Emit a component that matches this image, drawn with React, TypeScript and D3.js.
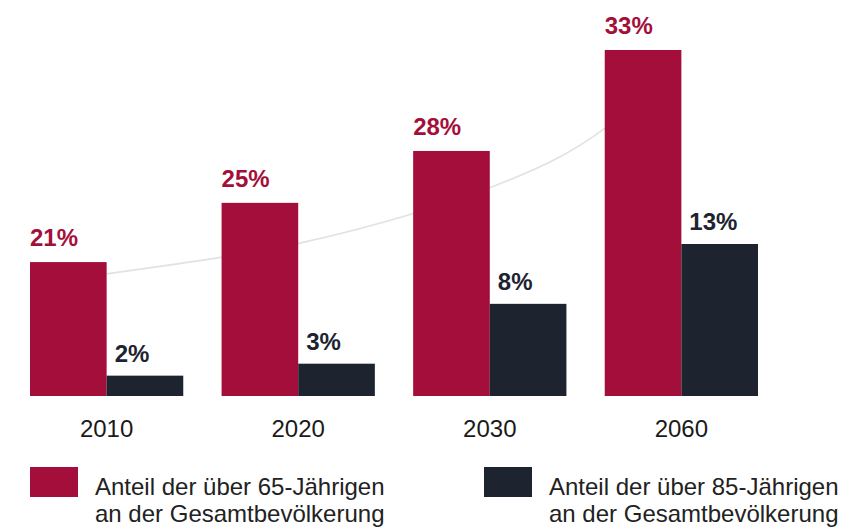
import React from "react";
import * as d3 from "d3";

const years = ["2010", "2020", "2030", "2060"];
const over65 = [21, 25, 28, 33];
const over85 = [2, 3, 8, 13];
const legendLabels = [
  ["Anteil der über 65-Jährigen", "an der Gesamtbevölkerung"],
  ["Anteil der über 85-Jährigen", "an der Gesamtbevölkerung"],
];
// decorative trend curve: [group position, value in %]
const trendPos = [0.4, 1.02, 1.42, 2.02, 2.42, 2.77, 3.0, 3.4];
const trendVal = [20.1, 21.4, 22.4, 24.4, 26.0, 27.7, 29.2, 32.4];

const RED = "#A30F3A";
const DARK = "#1D2430";
const W = 861;
const H = 529;
const BASE = 396;
const FONT = "'Liberation Sans', Arial, sans-serif";

export default function App() {
  const x = d3.scaleBand<string>().domain(years).range([30, 758]).paddingInner(0.2).paddingOuter(0);
  const bw = x.bandwidth() / 2;
  const yRed = d3.scalePow().exponent(2.1).domain([0, 33]).range([BASE, 50]);
  const yDark = d3.scaleLinear().domain([0.3, 13]).range([BASE, 244]);

  const trendPts: [number, number][] = trendPos.map((p, i) => [
    (x(years[0]) as number) + p * x.step(),
    yRed(trendVal[i]),
  ]);
  const trendPath = d3.line().curve(d3.curveCatmullRom)(trendPts) || "";

  return (
    <svg
      width={W}
      height={H}
      style={{ position: "absolute", left: 0, top: 0, display: "block", background: "#fff" }}
      fontFamily={FONT}
    >
      <path d={trendPath} fill="none" stroke="#dfe3e3" strokeWidth={1.6} />
      {years.map((yr, i) => {
        const x0 = x(yr) as number;
        return (
          <g key={yr}>
            <rect x={x0} y={yRed(over65[i])} width={bw} height={BASE - yRed(over65[i])} fill={RED} />
            <rect x={x0 + bw} y={yDark(over85[i])} width={bw} height={BASE - yDark(over85[i])} fill={DARK} />
            <text x={x0} y={yRed(over65[i]) - 16} fill={RED} fontSize={24} fontWeight={700}>
              {over65[i]}%
            </text>
            <text x={x0 + bw + 8} y={yDark(over85[i]) - 14} fill={DARK} fontSize={24} fontWeight={700}>
              {over85[i]}%
            </text>
            <text x={x0 + bw} y={437} textAnchor="middle" fill="#1a1a1a" fontSize={24}>
              {yr}
            </text>
          </g>
        );
      })}
      {legendLabels.map((lines, i) => {
        const lx = i === 0 ? 30 : 484;
        return (
          <g key={i}>
            <rect x={lx} y={467} width={48} height={30} fill={i === 0 ? RED : DARK} />
            {lines.map((t, j) => (
              <text key={j} x={lx + 65} y={495 + j * 27} fill="#222" fontSize={24}>
                {t}
              </text>
            ))}
          </g>
        );
      })}
    </svg>
  );
}
